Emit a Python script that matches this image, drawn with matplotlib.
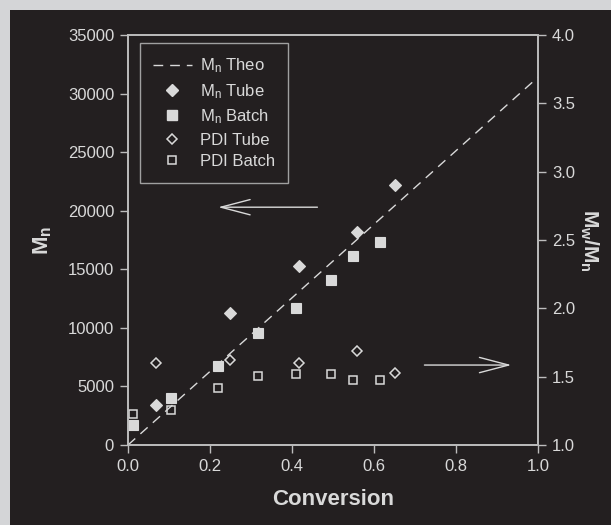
#-------------------------------------------------------------------------------
# Mn and PDI vs conversion, tube vs batch
#-------------------------------------------------------------------------------
import matplotlib
matplotlib.use('Agg')
import matplotlib.pyplot as plt
from matplotlib.patches import Rectangle
from matplotlib.lines import Line2D
#-------------------------------------------------------------------------------
theo_x     = [0.0, 1.0]
theo_mn    = [0, 31400]

conv_tube  = [0.068, 0.249, 0.418, 0.558, 0.650]
mn_tube    = [3400, 11230, 15280, 18210, 22200]
pdi_tube   = [1.603, 1.622, 1.598, 1.685, 1.527]

conv_batch = [0.011, 0.105, 0.219, 0.317, 0.410, 0.496, 0.549, 0.615]
mn_batch   = [1680, 4040, 6770, 9560, 11730, 14080, 16130, 17330]
pdi_batch  = [1.229, 1.254, 1.418, 1.504, 1.518, 1.523, 1.477, 1.477]

x_ticks    = [0.0, 0.2, 0.4, 0.6, 0.8, 1.0]
mn_ticks   = [0, 5000, 10000, 15000, 20000, 25000, 30000, 35000]
pdi_ticks  = [1.0, 1.5, 2.0, 2.5, 3.0, 3.5, 4.0]

# arrows pointing to the axis each group belongs to (tail, head)
arrow_mn   = ((0.462, 20300), (0.220, 20300))   # left axis units
arrow_pdi  = ((0.723, 1.585), (0.935, 1.585))   # right axis units
#-------------------------------------------------------------------------------
bg    = '#231f20'
frame = '#d4d5d7'
fg    = '#d9d9d9'
spine = '#bdbdbd'

plt.rcParams['font.family'] = ['Liberation Sans', 'DejaVu Sans']
plt.rcParams['mathtext.fontset'] = 'custom'
plt.rcParams['mathtext.rm'] = 'Liberation Sans'
plt.rcParams['mathtext.it'] = 'Liberation Sans'
plt.rcParams['mathtext.bf'] = 'Liberation Sans:bold'
#-------------------------------------------------------------------------------
fig = plt.figure(figsize=(6.11, 5.25), dpi=100, facecolor=frame)
fig.patches.append(Rectangle((10/611, 0), 1, 1 - 10/525, transform=fig.transFigure,
                             facecolor=bg, edgecolor='none', zorder=-10))

ax = fig.add_axes([128/611, 80/525, 410/611, 410/525])
ax.set_facecolor('none')
ax2 = ax.twinx()
ax2.set_facecolor('none')

ax.plot(theo_x, theo_mn, color=fg, lw=1.0, dashes=(7, 5))
ax.plot(conv_tube, mn_tube, 'D', ms=6.5, mfc=fg, mec=fg, mew=0.8)
ax.plot(conv_batch, mn_batch, 's', ms=7.5, mfc=fg, mec=fg, mew=0.8)
ax2.plot(conv_tube, pdi_tube, 'D', ms=5.6, mfc='none', mec=fg, mew=1.1)
ax2.plot(conv_batch, pdi_batch, 's', ms=6.3, mfc='none', mec=fg, mew=1.1)

ax.set_xlim(0, 1.0)
ax.set_ylim(0, 35000)
ax2.set_ylim(1.0, 4.0)
ax.set_xticks(x_ticks)
ax.set_xticklabels(['%.1f' % v for v in x_ticks])
ax.set_yticks(mn_ticks)
ax2.set_yticks(pdi_ticks)
ax2.set_yticklabels(['%.1f' % v for v in pdi_ticks])

for a in (ax, ax2):
    a.tick_params(colors=spine, labelcolor=fg, labelsize=12, length=6, width=1.0,
                  direction='out', pad=4)
    for s in ('left', 'right'):
        a.spines[s].set_color(spine)
        a.spines[s].set_linewidth(1.2)
    for s in ('top', 'bottom'):
        a.spines[s].set_color(spine)
        a.spines[s].set_linewidth(1.2)
        a.spines[s].set_linestyle((0, (1, 1)))

ax.set_xlabel('Conversion', color=fg, fontsize=16, fontweight='bold', labelpad=11)
ax.set_ylabel(r'$\mathbf{M_n}$', color=fg, fontsize=16, labelpad=10)
ax2.set_ylabel(r'$\mathbf{M_w/M_n}$', color=fg, fontsize=15, rotation=-90, labelpad=18)

arrow_kw = dict(arrowstyle='->,head_length=21,head_width=5.5', mutation_scale=1,
                color=fg, lw=1.0, shrinkA=0, shrinkB=0)
ax2.annotate('', xy=arrow_mn[1], xytext=arrow_mn[0], xycoords=ax.transData,
             textcoords=ax.transData, arrowprops=arrow_kw)
ax2.annotate('', xy=arrow_pdi[1], xytext=arrow_pdi[0], arrowprops=arrow_kw)
#-------------------------------------------------------------------------------
handles = [
    Line2D([], [], color=fg, lw=1.0, dashes=(7, 5)),
    Line2D([], [], ls='none', marker='D', ms=6.5, mfc=fg, mec=fg),
    Line2D([], [], ls='none', marker='s', ms=7.5, mfc=fg, mec=fg),
    Line2D([], [], ls='none', marker='D', ms=5.6, mfc='none', mec=fg, mew=1.1),
    Line2D([], [], ls='none', marker='s', ms=6.3, mfc='none', mec=fg, mew=1.1),
]
labels = [r'M$_\mathrm{n}$ Theo', r'M$_\mathrm{n}$ Tube', r'M$_\mathrm{n}$ Batch',
          'PDI Tube', 'PDI Batch']
leg = ax2.legend(handles, labels, loc='upper left', bbox_to_anchor=(0.029, 0.98),
                 borderaxespad=0, fontsize=12, labelcolor=fg, frameon=True,
                 fancybox=False, facecolor=bg, edgecolor='#a0a0a0', framealpha=1,
                 handlelength=2.3, handletextpad=0.5, borderpad=0.8,
                 labelspacing=0.4)
leg.get_frame().set_linewidth(1.0)
#-------------------------------------------------------------------------------
fig.savefig('out.png', dpi=100, facecolor=frame)
